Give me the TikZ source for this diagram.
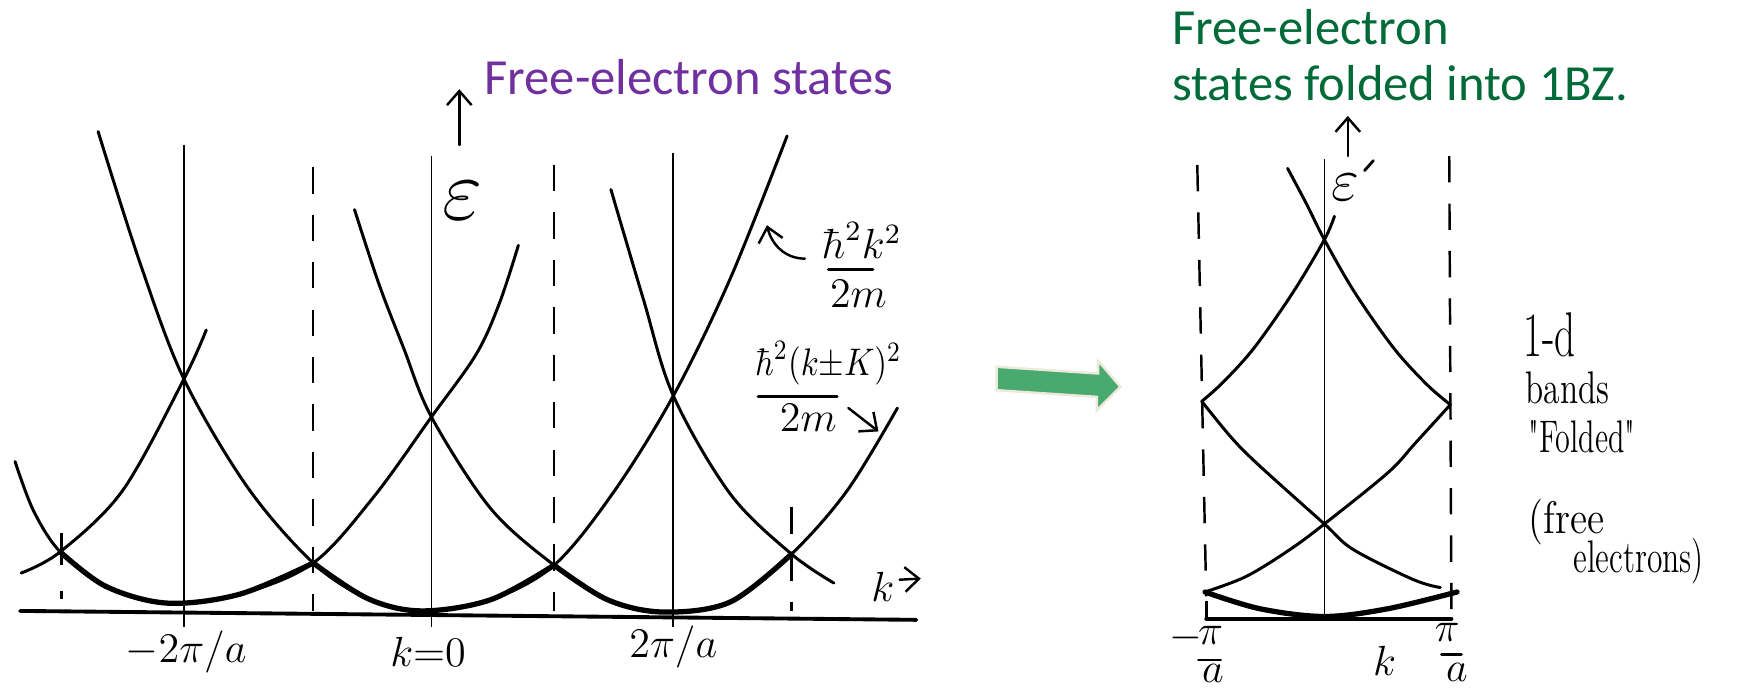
\documentclass[tikz,border=0pt]{standalone}
\usepackage{amsmath}
\usepackage{fontspec}
\newfontfamily\titlefont{Carlito}
\usetikzlibrary{arrows.meta}
\definecolor{purp}{RGB}{112,48,160}
\definecolor{dgreen}{RGB}{0,107,56}
\definecolor{agreen}{RGB}{72,170,110}
\definecolor{abeige}{RGB}{236,232,218}
\begin{document}
\begin{tikzpicture}[x=0.011148cm,y=-0.011148cm,
  crv/.style={line width=0.85pt,line cap=round,line join=round},
  bcrv/.style={line width=1.5pt,line cap=round,line join=round},
  vln/.style={line width=0.5pt},
  axln/.style={line width=1.1pt,line cap=round},
  dsh/.style={line width=0.7pt,dash pattern=on 7.5pt off 6pt},
  hand/.style={font=\fontsize{12}{14}\selectfont, inner sep=0pt},
  note/.style={font=\fontsize{13}{15}\selectfont, inner sep=0pt},
  fbar/.style={line width=0.8pt,line cap=round},
  harrow/.style={line width=0.7pt,line cap=round,-{Straight Barb[length=4pt,width=7pt]}},
  ttl/.style={font=\titlefont\fontsize{14.4}{16}\selectfont, inner sep=0pt, anchor=base west}
]
\useasboundingbox (0,0) rectangle (1568,619);

% ---------- titles ----------
\node[ttl, text=purp] (t1) at (434,85.2) {Free-electron states};
\node[ttl, text=dgreen] (t2a) at (1051,39.5) {Free-electron};
\node[ttl, text=dgreen] (t2b) at (1051,89.7) {states folded into 1BZ.};

% ---------- left panel: axes ----------
\draw[axln] (18,548) -- (822,556);
\draw[vln] (165,130) -- (165,562);
\draw[vln] (387,140) -- (387,562);
\draw[vln] (604,137) -- (604,562);
\draw[dsh] (281,150) -- (281,548);
\draw[dsh] (497,148) -- (497,548);
\draw[dsh] (710,455) -- (710,548);
\draw[line width=0.8pt] (55,478) -- (55,507);
\draw[line width=0.8pt] (55,530) -- (55,537);

% ---------- left panel: free-electron parabolas ----------
\draw[crv] plot[smooth,tension=0.55] coordinates {(19,514) (54,495) (110,440) (165,340) (185,296)};
\draw[crv] plot[smooth,tension=0.55] coordinates {(13.5,414) (30,458) (54,495) (95,526) (150,541) (215,533) (281,505) (335,446) (387,374) (427,318) (448,272) (465,220)};
\draw[crv] plot[smooth,tension=0.55] coordinates {(88,118) (126,237) (165,340) (222,437) (281,505) (330,537) (378,548) (440,538) (497,507) (550,442) (604,355) (655,250) (706,122)};
\draw[crv] plot[smooth,tension=0.55] coordinates {(318,188) (340,255) (362,312) (387,374) (440,456) (497,507) (545,538) (595,549) (655,540) (710,497) (760,440) (805,366)};
\draw[crv] plot[smooth,tension=0.55] coordinates {(548,170) (577,268) (604,355) (655,443) (710,497) (748,523)};
% lowest band drawn heavier
\draw[bcrv] plot[smooth,tension=0.55] coordinates {(54,495) (95,526) (150,541) (215,533) (281,505)};
\draw[bcrv] plot[smooth,tension=0.55] coordinates {(281,505) (330,537) (378,548) (440,538) (497,507)};
\draw[bcrv] plot[smooth,tension=0.55] coordinates {(497,507) (545,538) (595,549) (655,540) (710,497)};

% ---------- left panel: labels ----------
\coordinate (eb) at (412,130);
\coordinate (et) at (412,80);
\draw[harrow] (eb) -- (et);
\node[font=\fontsize{24}{26}\selectfont, inner sep=0pt] (eps) at (415,180) {$\varepsilon$};
\node[hand] (lm2) at (167,585) {$-2\pi/a$};
\node[hand] (lk0) at (384,585) {$k{=}0$};
\node[hand] (lp2) at (604,580) {$2\pi/a$};
\node[hand] (kax) at (792,526) {$k$};
\coordinate (kat) at (826,519);
\draw[harrow] (kax.east) ++(4,-6) -- (kat);

\node[hand] (f1n) at (773,216) {$\hbar^2k^2$};
\draw[fbar] (743,242) -- (783,242);
\node[hand] (f1d) at (770,264) {$2m$};
\node[font=\fontsize{11}{13}\selectfont, inner sep=0pt] (f2n) at (743,326) {\scalebox{0.85}[1]{$\hbar^2(k{\pm}K)^2$}};
\draw[fbar] (680,356) -- (751,356);
\node[hand] (f2d) at (725,375) {$2m$};

\coordinate (a1t) at (722,232);
\coordinate (a1h) at (688,202);
\draw[harrow] (a1t) .. controls (704,232) and (692,219) .. (a1h);
\coordinate (a2t) at (761,366);
\coordinate (a2h) at (788,387);
\draw[harrow] (a2t) -- (a2h);

% ---------- green arrow ----------
\draw[fill=agreen, draw=abeige, line width=0.7pt, line join=miter]
  (894,329) -- (985,335) -- (985,323.5) -- (1005,347) -- (984,368) -- (984,356) -- (894,350) -- cycle;

% ---------- right panel ----------
\draw[axln] (1082,555) -- (1302,555);
\draw[vln] (1188,143) -- (1188,553);
\draw[line width=0.8pt] (1082,539) -- (1082,555);
\draw[dsh] (1074,148) -- (1082,535);
\draw[dsh] (1300,140) -- (1302,553);
\coordinate (rb) at (1209,140);
\coordinate (rt) at (1209,104);
\draw[harrow] (rb) -- (rt);
\node[font=\fontsize{18}{20}\selectfont, inner sep=0pt] (epsp) at (1207,168) {$\varepsilon$};
\draw[line width=0.8pt,line cap=round] (1224,153) -- (1232,144);

\draw[crv] plot[smooth,tension=0.55] coordinates {(1155,151) (1172,183) (1188,215) (1215,262) (1250,312) (1280,345) (1301,363)};
\draw[crv] plot[smooth,tension=0.55] coordinates {(1197,194) (1188,215) (1160,262) (1125,312) (1097,343) (1078,360)};
\draw[crv] plot[smooth,tension=0.55] coordinates {(1078,360) (1105,393) (1130,418) (1188,470) (1214,493) (1268,520) (1292,527)};
\draw[crv] plot[smooth,tension=0.55] coordinates {(1301,363) (1270,397) (1245,424) (1188,470) (1157,493) (1118,517) (1081,531)};
\draw[bcrv] plot[smooth,tension=0.55] coordinates {(1081,531) (1130,546) (1188,553) (1245,546) (1307,531)};

\node[hand] (rmm) at (1064,572) {$-$};
\node[hand] (rmp) at (1086,570) {$\pi$};
\draw[fbar] (1075,592) -- (1095,592);
\node[hand] (rma) at (1088,604) {$a$};
\node[hand] (rk) at (1242,593) {$k$};
\node[hand] (rpp) at (1298,567) {$\pi$};
\draw[fbar] (1293,587) -- (1311,587);
\node[hand] (rpa) at (1307,603) {$a$};

\node[font=\fontsize{18}{20}\selectfont, inner sep=0pt] (t1d) at (1390,300) {\scalebox{0.65}[1]{1-d}};
\node[note] (tb) at (1406,348) {\scalebox{0.73}[1]{bands}};
\node[note] (tf) at (1419,392) {\scalebox{0.66}[1]{\textquotedbl Folded\textquotedbl}};
\node[note] (tfr) at (1405,468) {\scalebox{0.86}[1]{(free}};
\node[note] (tel) at (1470,503) {\scalebox{0.69}[1]{electrons)}};
\end{tikzpicture}
\end{document}
